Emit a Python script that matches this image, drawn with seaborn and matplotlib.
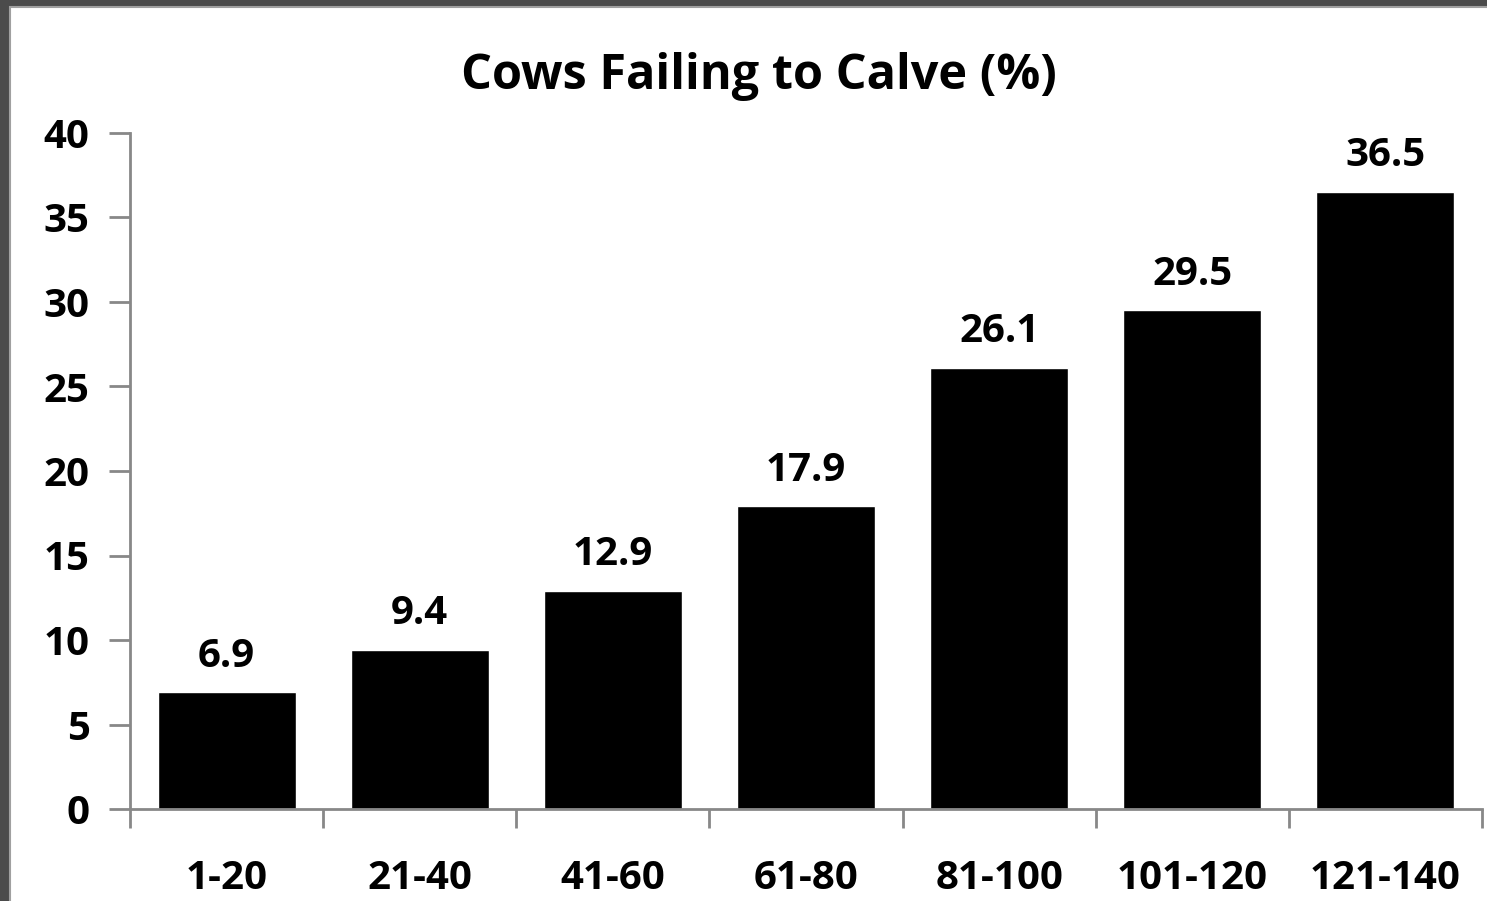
import numpy as np
import pandas as pd
import seaborn as sns
import matplotlib.pyplot as plt
from matplotlib.patches import Rectangle

# datos
grupos = ['1-20', '21-40', '41-60', '61-80', '81-100', '101-120', '121-140']
porcentaje = [6.9, 9.4, 12.9, 17.9, 26.1, 29.5, 36.5]
ticks_y = [0, 5, 10, 15, 20, 25, 30, 35, 40]

df = pd.DataFrame({'grupo': grupos, 'pct': porcentaje})

sns.set_style("white")
plt.rcParams['font.family'] = ['Open Sans', 'DejaVu Sans']
plt.rcParams['font.weight'] = 'bold'
plt.rcParams['text.color'] = 'black'
plt.rcParams['xtick.color'] = 'black'
plt.rcParams['ytick.color'] = 'black'

W, H = 1487, 901
fig = plt.figure(figsize=(W / 100, H / 100), dpi=100)
fig.patch.set_facecolor('#4b4b4b')
# fondo blanco con marco gris
fig.add_artist(Rectangle((10 / W, -0.05), 1.1, 1 - 7 / H + 0.05, transform=fig.transFigure,
                         facecolor='white', edgecolor='#a0a0a0', lw=1.5, zorder=0))

ax = fig.add_axes([130 / W, 1 - 809 / H, (1482 - 130) / W, (809 - 133) / H])
sns.barplot(data=df, x='grupo', y='pct', color='black', saturation=1, width=0.715, ax=ax)
ax.set_xlim(-0.5, len(grupos) - 0.5)
ax.set_ylim(0, 40)
ax.set_yticks(ticks_y)
ax.set_xlabel('')
ax.set_ylabel('')

for s in ['top', 'right']:
    ax.spines[s].set_visible(False)
for s in ['left', 'bottom']:
    ax.spines[s].set_color('#888888')
    ax.spines[s].set_linewidth(2)

ax.set_xticks(np.arange(-0.5, len(grupos)), minor=True)
ax.tick_params(axis='x', which='major', bottom=True, length=0, pad=36, labelsize=29,
               labelcolor='black')
ax.tick_params(axis='x', which='minor', bottom=True, length=14, width=2, color='#888888', direction='out')
ax.tick_params(axis='y', left=True, length=15, width=2, color='#888888', direction='out', pad=14,
               labelsize=29, labelcolor='black')
for lab in ax.get_xticklabels() + ax.get_yticklabels():
    lab.set_fontweight('bold')

ax.bar_label(ax.containers[0], fmt='%.1f', padding=12, fontsize=29, fontweight='bold', color='black')
# el titulo esta centrado un poco a la izquierda del centro del eje
ax.set_title('Cows Failing to Calve (%)', fontsize=35, fontweight='bold', color='black', pad=32,
             x=(759 - 130) / (1482 - 130))

plt.savefig('out.png', dpi=100, facecolor=fig.get_facecolor())
